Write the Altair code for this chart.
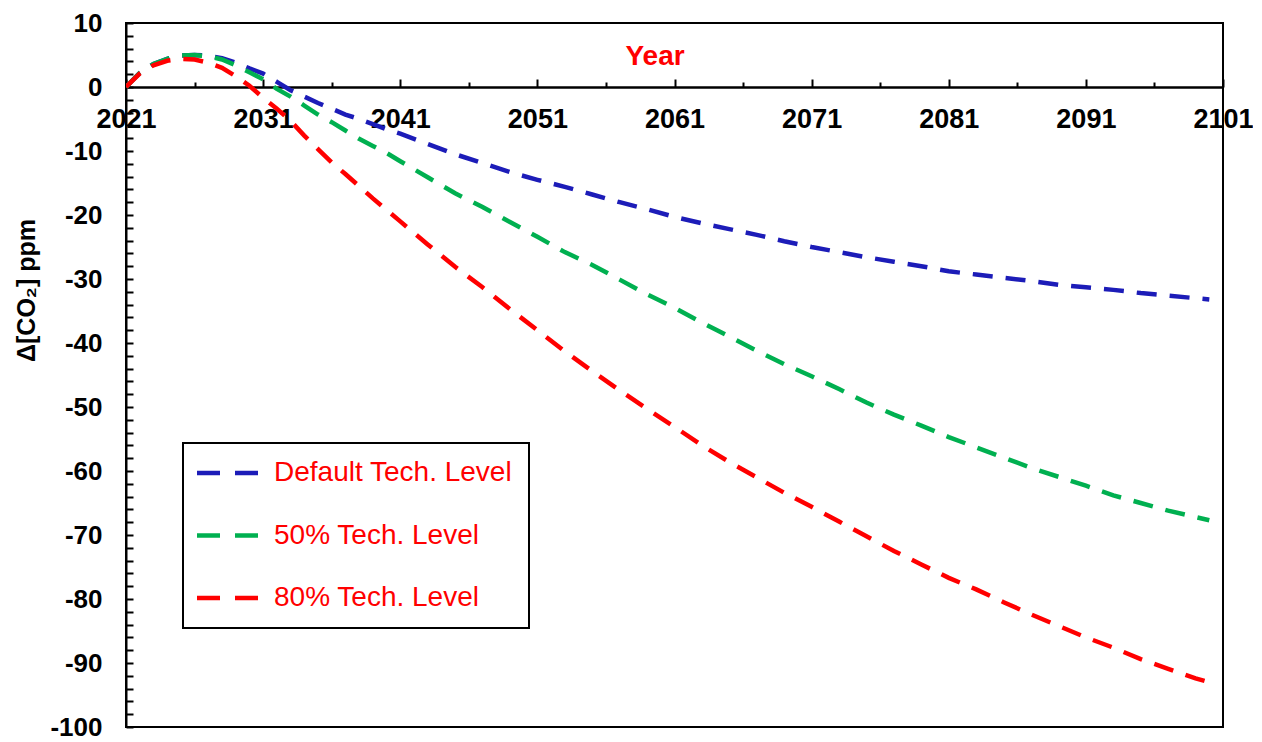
import altair as alt
import pandas as pd

# ---- data ----
years = list(range(2021, 2042)) + list(range(2043, 2100, 2)) + [2100]

default_level = [0, 2.2, 3.6, 4.4, 4.9, 5.0, 4.9, 4.5, 3.8, 2.9, 2.1, 0.8, -0.5, -1.5, -2.5, -3.4, -4.3, -5.0, -5.8, -6.6, -7.3,
                 -8.9, -10.5, -11.9, -13.3, -14.5, -15.6, -16.8, -18.0, -19.1, -20.3, -21.3, -22.2, -23.1, -24.1, -25.0,
                 -25.8, -26.6, -27.3, -28.0, -28.8, -29.3, -29.8, -30.3, -30.9, -31.3, -31.7, -32.2, -32.6, -33.0,
                 -33.2]
tech50_level = [0, 2.2, 3.6, 4.4, 4.9, 5.0, 4.8, 4.3, 3.4, 2.3, 1.2, -0.3, -1.5, -2.9, -4.3, -5.5, -6.8, -8.1, -9.2, -10.3, -11.6,
                -14.1, -16.6, -18.75, -21.1, -23.4, -25.8, -27.8, -30.1, -32.4, -34.5, -36.8, -39.0, -41.2, -43.3, -45.2,
                -47.2, -49.3, -51.2, -52.9, -54.7, -56.3, -57.9, -59.5, -60.9, -62.3, -63.8, -65.0, -66.2, -67.2,
                -67.7]
tech80_level = [0, 2.1, 3.4, 4.1, 4.4, 4.3, 3.8, 3.0, 1.7, 0.2, -1.7, -3.4, -5.3, -7.6, -9.7, -11.8, -13.6, -15.5, -17.4, -19.2, -21.0,
                -24.6, -28.1, -31.3, -34.7, -38.0, -41.3, -44.4, -47.4, -50.3, -53.1, -56.0, -58.6, -61.0, -63.4, -65.6,
                -67.9, -70.2, -72.5, -74.6, -76.7, -78.5, -80.5, -82.4, -84.2, -86.0, -87.6, -89.4, -90.9, -92.4,
                -93.0]

series_names = ["Default Tech. Level", "50% Tech. Level", "80% Tech. Level"]
series_colors = ["#1C1CB8", "#00B050", "#FF0000"]

x_major = list(range(2021, 2102, 10))
x_minor = list(range(2026, 2100, 10))
y_labels = list(range(-100, 11, 10))
y_ticks = list(range(-100, 11, 2))
inner_title = ["Year"]
y_title = "Δ[CO₂] ppm"

# ---- layout ----
W, H = 1097, 704
ZERO = H * 10 / 110
FONT = "Liberation Sans"

rows = []
for name, vals in zip(series_names, [default_level, tech50_level, tech80_level]):
    for yr, v in zip(years, vals):
        rows.append({"Year": yr, "Value": v, "Series": name})
df = pd.DataFrame(rows)

xscale = alt.Scale(domain=[2021, 2101], nice=False, zero=False)
yscale = alt.Scale(domain=[-100, 10], nice=False, zero=False)

lines = alt.Chart(df).mark_line(strokeWidth=4.5, strokeDash=[20, 13], clip=True).encode(
    x=alt.X("Year:Q", scale=xscale,
            axis=alt.Axis(orient="bottom", offset=-(H - ZERO), values=x_major, labelExpr="'' + datum.value",
                          ticks=False, domain=True, domainColor="black", domainWidth=2.5,
                          labelFont=FONT, labelFontSize=27, labelFontWeight="bold", labelColor="black",
                          labelPadding=19, labelFlush=False, labelOverlap=False, grid=False, title=None)),
    y=alt.Y("Value:Q", scale=yscale,
            axis=alt.Axis(orient="left", values=y_labels, labelExpr="'' + datum.value", ticks=False, domain=True,
                          domainColor="black", domainWidth=2,
                          labelFont=FONT, labelFontSize=26, labelFontWeight="bold", labelColor="black",
                          labelPadding=24, labelFlush=False, labelOverlap=False, grid=False,
                          title=y_title, titleFont=FONT, titleFontSize=25, titleFontWeight="bold",
                          titleColor="black", titleAngle=270, titleAlign="center", titleBaseline="middle",
                          titleX=-100, titleY=267)),
    color=alt.Color("Series:N", scale=alt.Scale(domain=series_names, range=series_colors),
                    legend=alt.Legend(orient="none", legendX=57, legendY=420, title=None,
                                      symbolType="M -16 0 H 45", symbolSize=4, symbolStrokeWidth=4.5,
                                      symbolDash=[23, 15], labelFont=FONT, labelFontSize=28,
                                      labelColor="#FF0000", labelFontWeight="normal", labelLimit=500,
                                      labelOffset=47, rowPadding=34.5, padding=16,
                                      strokeColor="black", fillColor="white")),
)

tick_df = pd.DataFrame({"Year": x_major, "Value": [0] * len(x_major)})
major_ticks = alt.Chart(tick_df).mark_point(opacity=0).encode(
    x=alt.X("Year:Q", scale=xscale,
            axis=alt.Axis(orient="top", offset=-ZERO, values=x_major, labels=False, domain=False,
                          ticks=True, tickSize=8, tickWidth=2, tickColor="black", grid=False, title=None)),
    y=alt.Y("Value:Q", scale=yscale,
            axis=alt.Axis(orient="right", offset=-W, values=y_ticks, labels=False, domain=False,
                          ticks=True, tickSize=7, tickWidth=2, tickColor="black", grid=False, title=None)),
)

minor_df = pd.DataFrame({"Year": x_minor, "Value": [0] * len(x_minor)})
minor_ticks = alt.Chart(minor_df).mark_point(opacity=0).encode(
    x=alt.X("Year:Q", scale=xscale,
            axis=alt.Axis(orient="top", offset=-ZERO, values=x_minor, labels=False, domain=False,
                          ticks=True, tickSize=5, tickWidth=2, tickColor="black", grid=False, title=None)),
    y=alt.Y("Value:Q", scale=yscale, axis=None),
)

title_text = alt.Chart(pd.DataFrame({"t": inner_title})).mark_text(
    font=FONT, fontSize=28, fontWeight="bold", color="#FF0000", align="center", baseline="middle"
).encode(text="t:N", x=alt.value(529), y=alt.value(34))

chart = alt.layer(lines, major_ticks, minor_ticks, title_text).resolve_axis(
    x="independent", y="independent"
).properties(
    width=W, height=H,
    background="white",
    autosize=alt.AutoSizeParams(type="none"),
    padding={"left": 118, "top": 15, "right": 30, "bottom": 16},
).configure_view(stroke="black", strokeWidth=2).configure_legend(strokeWidth=2)

chart.save("out.html", embed_options={"renderer": "svg", "actions": False})
